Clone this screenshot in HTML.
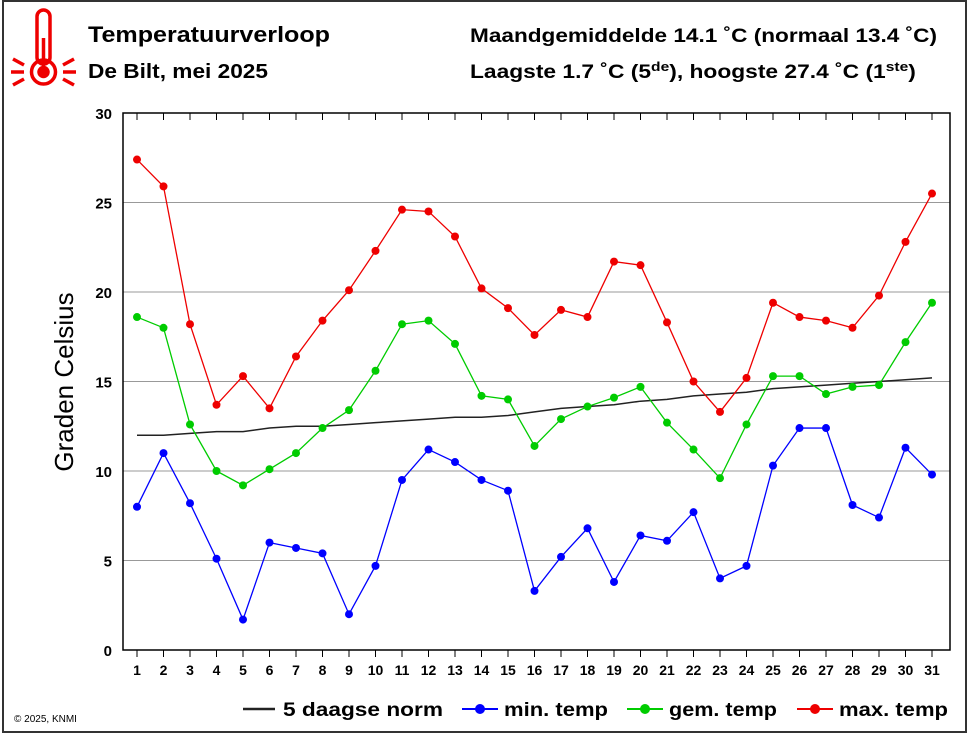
<!DOCTYPE html>
<html><head><meta charset="utf-8"><style>
body{margin:0;background:#fff;}
svg{display:block;font-family:"Liberation Sans",Arial,sans-serif;}
</style></head><body>
<svg id="chart" width="967" height="733" viewBox="0 0 967 733">
<rect x="3" y="1" width="963" height="731" fill="#fff" stroke="#333" stroke-width="2"/>
<g stroke="#e00" fill="none" stroke-width="3.5">
<rect x="37" y="10" width="13" height="54" rx="6.5"/>
<circle cx="43.5" cy="72" r="12"/>
<circle cx="43.5" cy="72" r="4.5" fill="#e00"/>
<line x1="43.5" y1="38" x2="43.5" y2="68"/>
<line x1="11" y1="72" x2="24" y2="72"/><line x1="63" y1="72" x2="76" y2="72"/>
<line x1="13" y1="59" x2="24" y2="65"/><line x1="63" y1="65" x2="74" y2="59"/>
<line x1="13" y1="85" x2="24" y2="79"/><line x1="63" y1="79" x2="74" y2="85"/>
</g>
<text x="88" y="42" font-size="22" font-weight="bold" textLength="242" lengthAdjust="spacingAndGlyphs">Temperatuurverloop</text>
<text x="88" y="78" font-size="20" font-weight="bold" textLength="180" lengthAdjust="spacingAndGlyphs">De Bilt, mei 2025</text>
<text x="470" y="42" font-size="19" font-weight="bold" textLength="467" lengthAdjust="spacingAndGlyphs">Maandgemiddelde 14.1 ˚C (normaal 13.4 ˚C)</text>
<text transform="translate(470,78) scale(1.2,1)" x="0" y="0" font-size="19" font-weight="bold">Laagste 1.7 ˚C (5<tspan font-size="13" dy="-7">de</tspan><tspan dy="7">), hoogste 27.4 ˚C (1</tspan><tspan font-size="13" dy="-7">ste</tspan><tspan dy="7">)</tspan></text>
<text transform="translate(73,382) rotate(-90)" text-anchor="middle" font-size="26">Graden Celsius</text>
<g id="grid"></g><g id="series"></g>
<rect x="123" y="113" width="827" height="537" fill="none" stroke="#000" stroke-width="1.5"/>
<text x="14" y="722" font-size="10">© 2025, KNMI</text>
<g font-size="19" font-weight="bold">
<line x1="243" y1="709" x2="275" y2="709" stroke="#222" stroke-width="2.5"/><text x="283" y="716" textLength="160" lengthAdjust="spacingAndGlyphs">5 daagse norm</text>
<line x1="462" y1="709" x2="498" y2="709" stroke="#00f" stroke-width="2"/><circle cx="480" cy="709" r="5" fill="#00f"/><text x="504" y="716" textLength="104" lengthAdjust="spacingAndGlyphs">min. temp</text>
<line x1="627" y1="709" x2="663" y2="709" stroke="#0c0" stroke-width="2"/><circle cx="645" cy="709" r="5" fill="#0c0"/><text x="669" y="716" textLength="108" lengthAdjust="spacingAndGlyphs">gem. temp</text>
<line x1="797" y1="709" x2="833" y2="709" stroke="#e00" stroke-width="2"/><circle cx="815" cy="709" r="5" fill="#e00"/><text x="839" y="716" textLength="109" lengthAdjust="spacingAndGlyphs">max. temp</text>
</g>
</svg>
<script>
const days=[1,2,3,4,5,6,7,8,9,10,11,12,13,14,15,16,17,18,19,20,21,22,23,24,25,26,27,28,29,30,31];
const yTicks=[0,5,10,15,20,25,30];
const maxTemp=[27.4,25.9,18.2,13.7,15.3,13.5,16.4,18.4,20.1,22.3,24.6,24.5,23.1,20.2,19.1,17.6,19.0,18.6,21.7,21.5,18.3,15.0,13.3,15.2,19.4,18.6,18.4,18.0,19.8,22.8,25.5];
const avgTemp=[18.6,18.0,12.6,10.0,9.2,10.1,11.0,12.4,13.4,15.6,18.2,18.4,17.1,14.2,14.0,11.4,12.9,13.6,14.1,14.7,12.7,11.2,9.6,12.6,15.3,15.3,14.3,14.7,14.8,17.2,19.4];
const minTemp=[8.0,11.0,8.2,5.1,1.7,6.0,5.7,5.4,2.0,4.7,9.5,11.2,10.5,9.5,8.9,3.3,5.2,6.8,3.8,6.4,6.1,7.7,4.0,4.7,10.3,12.4,12.4,8.1,7.4,11.3,9.8];
const normTemp=[12.0,12.0,12.1,12.2,12.2,12.4,12.5,12.5,12.6,12.7,12.8,12.9,13.0,13.0,13.1,13.3,13.5,13.6,13.7,13.9,14.0,14.2,14.3,14.4,14.6,14.7,14.8,14.9,15.0,15.1,15.2];
const NS='http://www.w3.org/2000/svg';
const X=d=>137+(d-1)*26.5;
const Y=v=>650-v*17.9;
function mk(tag,attrs,parent){const e=document.createElementNS(NS,tag);for(const k in attrs)e.setAttribute(k,attrs[k]);parent.appendChild(e);return e;}
const grid=document.getElementById('grid'),series=document.getElementById('series');
yTicks.forEach(v=>{
 if(v>0&&v<30){const l=mk('line',{x1:123,x2:950,y1:Y(v),y2:Y(v),stroke:'#999','stroke-width':1},grid);
 
 }
 const t=mk('text',{x:112,y:Y(v)+6,'text-anchor':'end','font-size':15,'font-weight':'bold'},grid);t.textContent=v;
 
 
});
days.forEach(d=>{
 mk('line',{x1:X(d),x2:X(d),y1:650,y2:657,stroke:'#000'},grid);
 mk('line',{x1:X(d),x2:X(d),y1:113,y2:120,stroke:'#000'},grid);
 const t=mk('text',{x:X(d),y:675,'text-anchor':'middle','font-size':14,'font-weight':'bold'},grid);t.textContent=d;
 
 
});
function draw(vals,color,name,dots,w){
 const p=mk('polyline',{points:vals.map((v,i)=>X(days[i])+','+Y(v)).join(' '),fill:'none',stroke:color,'stroke-width':w},series);
 
 
 if(dots)vals.forEach((v,i)=>{const c=mk('circle',{cx:X(days[i]),cy:Y(v),r:4,fill:color},series);
 
 });
}
draw(normTemp,'#222','norm',false,1.5);
draw(minTemp,'#00f','min-temp',true,1.3);
draw(avgTemp,'#0c0','avg-temp',true,1.3);
draw(maxTemp,'#e00','max-temp',true,1.3);
</script>
</body></html>
